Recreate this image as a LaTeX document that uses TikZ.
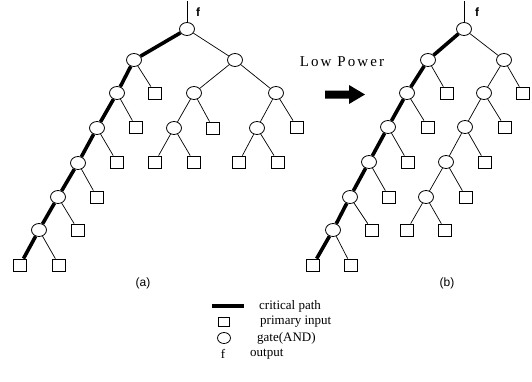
\documentclass[tikz,border=0pt]{standalone}
\usepackage{fontspec}
\setmainfont{Liberation Serif}
\setsansfont{Liberation Sans}
\usetikzlibrary{shapes.geometric}
\begin{document}
\begin{tikzpicture}[x=1pt,y=-1pt,
  andgate/.style={draw,ellipse,line width=0.8pt,minimum width=15pt,minimum height=13pt,inner sep=0pt},
  inbox/.style={draw,rectangle,line width=0.8pt,minimum width=13pt,minimum height=12pt,inner sep=0pt},
  wire/.style={line width=0.7pt},
  crit/.style={line width=3.6pt},
  flabel/.style={font=\sffamily\bfseries\fontsize{12}{13}\selectfont,inner sep=0pt},
  subcaption/.style={font=\sffamily\fontsize{12}{13}\selectfont,inner sep=0pt},
  legtext/.style={font=\fontsize{13}{15}\selectfont,inner sep=0pt,anchor=west}]
\useasboundingbox (0,0) rectangle (532,381);
% ---------- tree (a)
\node[andgate] (ga0) at (187,29) {};
\node[andgate] (ga1) at (134,60) {};
\node[andgate] (ga2) at (235,60) {};
\node[andgate] (ga3) at (117,93) {};
\node[inbox]   (ia1) at (155,93) {};
\node[andgate] (ga4) at (194,93) {};
\node[andgate] (ga5) at (276,93) {};
\node[andgate] (ga6) at (97,128) {};
\node[inbox]   (ia2) at (136,127) {};
\node[andgate] (ga7) at (174,128) {};
\node[inbox]   (ia3) at (213,128) {};
\node[andgate] (ga8) at (257,128) {};
\node[inbox]   (ia4) at (297,127) {};
\node[andgate] (ga9) at (78,163) {};
\node[inbox]   (ia5) at (117,162) {};
\node[inbox]   (ia6) at (155,162) {};
\node[inbox]   (ia7) at (194,162) {};
\node[inbox]   (ia8) at (239,162) {};
\node[inbox]   (ia9) at (278,162) {};
\node[andgate] (ga10) at (58,197) {};
\node[inbox]   (ia10) at (97,197) {};
\node[andgate] (ga11) at (39,230) {};
\node[inbox]   (ia11) at (78,230) {};
\node[inbox]   (ia12) at (20,265) {};
\node[inbox]   (ia13) at (59,265) {};
\coordinate (fa) at (187,1);
\node[flabel] (fla) at (198,12) {f};
\draw[wire] (fa) -- (ga0);
\draw[crit] (ga0) -- (ga1) (ga1) -- (ga3) (ga3) -- (ga6) (ga6) -- (ga9)
  (ga9) -- (ga10) (ga10) -- (ga11) (ga11) -- (ia12);
\draw[wire] (ga0) -- (ga2) (ga1) -- (ia1) (ga2) -- (ga4) (ga2) -- (ga5)
  (ga3) -- (ia2) (ga4) -- (ga7) (ga4) -- (ia3) (ga5) -- (ga8) (ga5) -- (ia4)
  (ga6) -- (ia5) (ga7) -- (ia6) (ga7) -- (ia7) (ga8) -- (ia8) (ga8) -- (ia9)
  (ga9) -- (ia10) (ga10) -- (ia11) (ga11) -- (ia13);
\node[subcaption] (capa) at (143,283) {(a)};
% ---------- tree (b)
\node[andgate] (gb0) at (464,29) {};
\node[andgate] (gb1) at (428,60) {};
\node[andgate] (gb2) at (504,60) {};
\node[andgate] (gb3) at (407,93) {};
\node[inbox]   (ib1) at (447,93) {};
\node[andgate] (gb4) at (484,93) {};
\node[inbox]   (ib2) at (523,93) {};
\node[andgate] (gb5) at (388,127) {};
\node[inbox]   (ib3) at (428,127) {};
\node[andgate] (gb6) at (465,127) {};
\node[inbox]   (ib4) at (505,127) {};
\node[andgate] (gb7) at (369,162) {};
\node[inbox]   (ib5) at (408,162) {};
\node[andgate] (gb8) at (446,162) {};
\node[inbox]   (ib6) at (485,162) {};
\node[andgate] (gb9) at (350,197) {};
\node[inbox]   (ib7) at (389,197) {};
\node[andgate] (gb10) at (426,197) {};
\node[inbox]   (ib8) at (466,197) {};
\node[andgate] (gb11) at (333,230) {};
\node[inbox]   (ib9) at (372,230) {};
\node[inbox]   (ib10) at (407,230) {};
\node[inbox]   (ib11) at (445,230) {};
\node[inbox]   (ib12) at (313,265) {};
\node[inbox]   (ib13) at (351,265) {};
\coordinate (fb) at (464,1);
\node[flabel] (flb) at (477,12) {f};
\draw[wire] (fb) -- (gb0);
\draw[crit] (gb0) -- (gb1) (gb1) -- (gb3) (gb3) -- (gb5) (gb5) -- (gb7)
  (gb7) -- (gb9) (gb9) -- (gb11) (gb11) -- (ib12);
\draw[wire] (gb0) -- (gb2) (gb1) -- (ib1) (gb2) -- (gb4) (gb2) -- (ib2)
  (gb3) -- (ib3) (gb4) -- (gb6) (gb4) -- (ib4) (gb5) -- (ib5) (gb6) -- (gb8)
  (gb6) -- (ib6) (gb7) -- (ib7) (gb8) -- (gb10) (gb8) -- (ib8) (gb9) -- (ib9)
  (gb10) -- (ib10) (gb10) -- (ib11) (gb11) -- (ib13);
\node[subcaption] (capb) at (447,283) {(b)};
% ---------- transformation arrow
\node[inner sep=0pt,font=\fontsize{15}{17}\selectfont\addfontfeatures{LetterSpace=14}] (lp) at (342,62) {Low Power};
\fill (325,90.5) -- (349,90.5) -- (349,85) -- (365,94.5) -- (349,104) -- (349,98.5) -- (325,98.5) -- cycle;
% ---------- legend
\coordinate (lc1) at (212,306);
\coordinate (lc2) at (244,306);
\draw[line width=3.6pt] (lc1) -- (lc2);
\node[legtext] (l1) at (259,306) {critical path};
\node[inbox,minimum width=11pt,minimum height=9pt] (lsq) at (224,322) {};
\node[legtext] (l2) at (260,322) {primary input};
\node[andgate,minimum width=13pt,minimum height=11pt] (lcirc) at (224,338) {};
\node[legtext] (l3) at (257,338) {gate(AND)};
\node[legtext,anchor=center] (lf) at (223,354) {f};
\node[legtext] (l4) at (250,354) {output};
\end{tikzpicture}
\end{document}
